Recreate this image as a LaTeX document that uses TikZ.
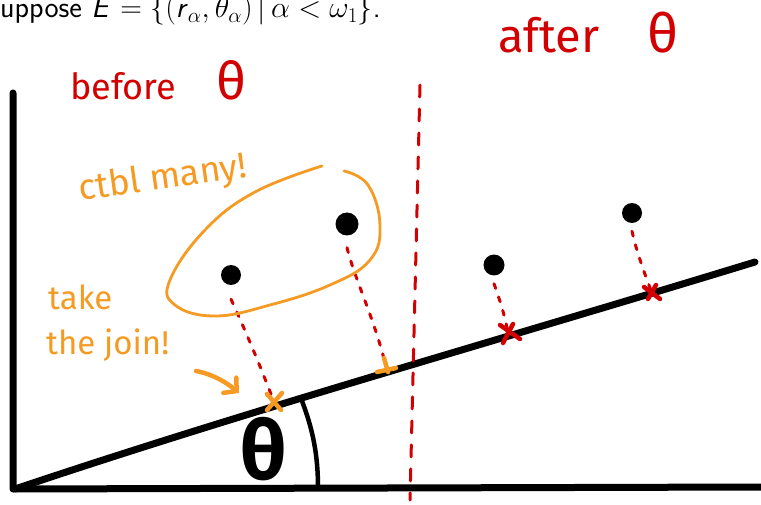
\RequirePackage{fix-cm}
\documentclass[tikz,border=0pt]{standalone}
\usepackage{fontspec}
\newfontfamily\hand{Fira Sans}
\usetikzlibrary{arrows.meta}
\definecolor{mred}{RGB}{210,0,0}
\definecolor{morange}{RGB}{245,155,35}
\begin{document}
\begin{tikzpicture}[x=1pt,y=-1pt,
  axis/.style={line width=7pt, line cap=round, line join=round},
  proj/.style={mred, line width=3pt, dash pattern=on 5pt off 9pt, line cap=round},
  vline/.style={mred, line width=3pt, dash pattern=on 12pt off 12pt, line cap=round},
  dot/.style={circle, fill=black, inner sep=0pt, minimum size=#1},
  ocross/.style={morange, line width=4.5pt, line cap=round},
  rcross/.style={mred, line width=4.5pt, line cap=round},
  handtxt/.style={inner sep=0pt, font=\hand},
]
\useasboundingbox (0,0) rectangle (761,505);

% title
\node[anchor=base west, inner sep=0pt, font=\fontsize{30}{36}\selectfont\sffamily] (title) at (0,18)
  {uppose \textsl{E} $=\{($\textsl{r}${}_\alpha,\theta_\alpha)\,|\,\alpha<\omega_1\}$.};

% axes
\draw[axis] (13,93) -- (13,489) -- (761,487);
\draw[axis] (15,489) .. controls (250,410) and (500,340) .. (755,262);
% angle arc
\draw[line width=4.5pt] (302,401) .. controls (313,430) and (318,455) .. (318,488);
\node[handtxt, font=\fontsize{82}{82}\selectfont\hand\bfseries] (th) at (264,449) {θ};

% red vertical dashed line
\coordinate (v1) at (420,85);
\coordinate (v2) at (410,500);
\draw[vline] (v1) -- (v2);

% dots
\node[dot=20pt] (d1) at (231,275) {};
\node[dot=23pt] (d2) at (347,224) {};
\node[dot=21pt] (d3) at (494,265) {};
\node[dot=20pt] (d4) at (632,213) {};

% projection points
\coordinate (p1) at (274,402);
\coordinate (p2) at (386,367);
\coordinate (p3) at (508,333);
\coordinate (p4) at (652,293);

% projections
\draw[proj] ([yshift=-14pt]d1.south) .. controls (245,330) and (258,360) .. (p1);
\draw[proj] ([yshift=-12pt]d2.south) .. controls (355,280) and (375,320) .. (p2);
\draw[proj] ([yshift=-8pt]d3.south) .. controls (498,295) and (505,315) .. (p3);
\draw[proj] ([yshift=-8pt]d4.south) .. controls (636,250) and (645,275) .. (p4);

% crosses
\draw[ocross] ([shift={(-7,-8)}]p1) -- ([shift={(7,8)}]p1);
\draw[ocross] ([shift={(-7,8)}]p1) -- ([shift={(8,-9)}]p1);
\draw[ocross] ([shift={(-2,-9)}]p2) -- ([shift={(2,5)}]p2);
\draw[ocross] ([shift={(-9,5)}]p2) -- ([shift={(10,1)}]p2);
\draw[rcross] ([shift={(-8,-8)}]p3) -- ([shift={(12,6)}]p3);
\draw[rcross] ([shift={(-5,10)}]p3) -- ([shift={(5,-9)}]p3);
\draw[rcross] ([shift={(-8,-6)}]p4) -- ([shift={(8,6)}]p4);
\draw[rcross] ([shift={(-4,6)}]p4) -- ([shift={(4,-8)}]p4);

% orange loop
\draw[morange, line width=2.8pt, line cap=round]
  plot[smooth, tension=0.7] coordinates {(344,171) (368,185) (380,225) (370,260) (330,285) (270,305) (215,316) (175,305) (170,280) (205,230) (255,192) (322,166)};

% labels
\node[handtxt, anchor=base west, text=mred, font=\fontsize{36}{36}\selectfont\hand] (before) at (70,100)
  {before\hspace{40pt}{\fontsize{52}{52}\selectfont θ}};
\node[handtxt, anchor=base west, text=mred, font=\fontsize{47}{47}\selectfont\hand] (after) at (498,53)
  {after\hspace{48pt}{\fontsize{54}{54}\selectfont θ}};
\node[handtxt, anchor=base west, text=morange, rotate=8, font=\fontsize{36}{36}\selectfont\hand] (ctbl) at (80,201)
  {ctbl many!};
\node[handtxt, anchor=base west, text=morange, align=left, font=\fontsize{33}{45}\selectfont\hand] (join) at (48,355)
  {take\\\hspace*{-2pt}the join!};

% arrow
\coordinate (a1) at (196,371);
\coordinate (a2) at (239,393);
\draw[morange, line width=4.5pt, line cap=round, -{Straight Barb[length=9pt,width=20pt,line cap=round]}]
  (a1) .. controls (212,374) and (226,382) .. (a2);
\end{tikzpicture}
\end{document}
